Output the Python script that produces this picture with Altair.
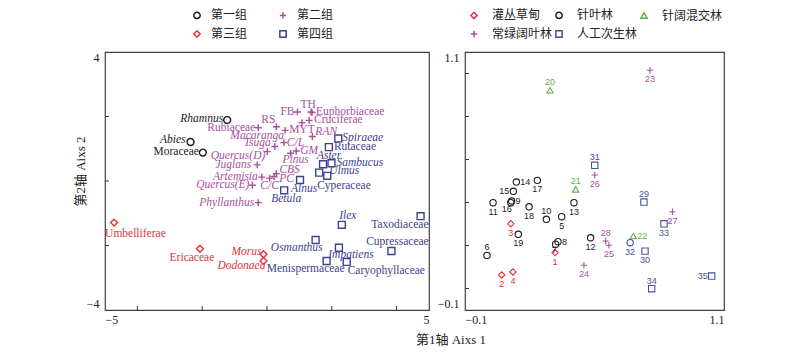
import altair as alt
import pandas as pd

# ---------------- Left panel: taxa ----------------
g1_names = ["Rhamnus", "Abies", "Moraceae"]
g1_x = [-1.23, -2.36, -1.98]
g1_y = [1.89, 1.21, 0.88]

g2_names = ["Rubiaceae", "RS", "FB", "TH", "Euphorbiaceae", "Cruciferae", "MYT", "Macaranga",
            "RAN", "C/L", "Tsuga", "GM", "Quercus(D)", "Pinus", "Juglans", "CBS", "PC", "C/C",
            "Artemisia", "Quercus(E)", "Phyllanthus"]
g2_x = [-0.27, 0.29, 0.94, 1.36, 1.39, 1.30, 0.56, 1.08,
        1.40, 0.52, 0.24, 0.90, 0.01, 0.73, -0.30, 0.29, 0.22, 0.08,
        -0.16, -0.45, -0.27]
g2_y = [1.65, 1.68, 2.14, 2.14, 2.12, 1.88, 1.57, 1.81,
        1.38, 1.19, 1.07, 0.93, 0.91, 0.86, 0.50, 0.23, 0.14, 0.09,
        0.12, -0.13, -0.67]

g3_names = ["Umbelliferae", "Ericaceae", "Morus", "Dodonaea"]
g3_x = [-4.72, -2.07, -0.11, -0.11]
g3_y = [-1.29, -2.10, -2.27, -2.48]

g4_names = ["Spiraeae", "Rutaceae", "Aster", "Sambucus", "Ulmus", "Cyperaceae", "Alnus", "Betula",
            "Ilex", "Taxodiaceae", "Osmanthus", "Impatiens", "Cupressaceae", "Menispermaceae",
            "Caryophyllaceae"]
g4_x = [2.20, 1.91, 1.73, 1.99, 1.86, 1.61, 1.02, 0.53,
        2.31, 4.74, 1.50, 2.22, 3.84, 1.84, 2.46]
g4_y = [1.32, 1.05, 0.52, 0.55, 0.16, 0.26, 0.03, -0.29,
        -1.36, -1.09, -1.83, -2.07, -2.17, -2.48, -2.51]

group_names = ["第一组", "第二组", "第三组", "第四组"]

italic_names = ["Rhamnus", "Abies", "Macaranga", "Tsuga", "C/L", "GM", "RAN", "Quercus(D)",
                "Pinus", "Juglans", "CBS", "Artemisia", "PC", "Quercus(E)", "C/C", "Phyllanthus",
                "Spiraeae", "Aster", "Ulmus", "Sambucus", "Alnus", "Betula", "Ilex", "Osmanthus",
                "Impatiens", "Morus", "Dodonaea"]

left_x_label_values = [-5, 5]
left_y_label_values = [-4, 4]
left_x_ticks = [-4, -2, 0, 2, 4]
left_y_ticks = [-2, 0, 2]

# ---------------- Right panel: samples ----------------
veg_types = ["灌丛草甸", "针叶林", "针阔混交林", "常绿阔叶林", "人工次生林"]
sample_ids = list(range(1, 36))
sample_x = [0.317, 0.070, 0.112, 0.122, 0.348, 0.002, 0.320, 0.331, 0.116, 0.277,
            0.030, 0.482, 0.405, 0.138, 0.124, 0.112, 0.235, 0.197, 0.147, 0.294,
            0.413, 0.680, 0.757, 0.451, 0.567, 0.501, 0.861, 0.552, 0.729, 0.734,
            0.501, 0.665, 0.822, 0.765, 1.043]
sample_y = [0.167, 0.063, 0.301, 0.077, 0.334, 0.154, 0.206, 0.218, 0.407, 0.322,
            0.399, 0.236, 0.399, 0.495, 0.452, 0.399, 0.503, 0.380, 0.252, 0.922,
            0.461, 0.244, 1.015, 0.108, 0.201, 0.528, 0.357, 0.221, 0.402, 0.174,
            0.573, 0.213, 0.301, -0.001, 0.058]
sample_type = ["灌丛草甸"] * 4 + ["针叶林"] * 15 + ["针阔混交林"] * 3 + ["常绿阔叶林"] * 6 + ["人工次生林"] * 7
circle_drawn_ids = [32]

right_label_values = [-0.1, 1.1]
right_y_ticks = [0.0, 0.2, 0.4, 0.6, 0.8, 1.0]

# ---------------- label placement (align, dx, dy) ----------------
left_offsets = {
    "Rhamnus": ("right", -4, -1), "Abies": ("right", -5, -2), "Moraceae": ("right", -4, -1),
    "Rubiaceae": ("right", -3, 0), "RS": ("right", -1, -7), "FB": ("right", -3, 0),
    "TH": ("center", -3, -7), "Euphorbiaceae": ("left", 4, -1), "Cruciferae": ("left", 5, 0),
    "MYT": ("left", 4, 0), "Macaranga": ("right", -18, 13), "RAN": ("left", 3, -4),
    "C/L": ("left", 3, 0), "Tsuga": ("right", -4, -3), "GM": ("left", 4, 0),
    "Quercus(D)": ("right", -2, 4), "Pinus": ("center", 5, 7), "Juglans": ("right", -6, 0),
    "CBS": ("left", 3, -4), "PC": ("left", 5, 3), "C/C": ("center", 0, 8),
    "Artemisia": ("right", -4, 0), "Quercus(E)": ("right", -3, 0), "Phyllanthus": ("right", -4, 0),
    "Umbelliferae": ("left", -9, 11), "Ericaceae": ("center", -8, 9), "Morus": ("right", -2, -2),
    "Dodonaea": ("right", 2, 5), "Spiraeae": ("left", 4, 0), "Rutaceae": ("left", 5, 0),
    "Aster": ("center", 6, -8), "Sambucus": ("left", 5, 0), "Ulmus": ("left", 2, -5),
    "Cyperaceae": ("left", -2, 13), "Alnus": ("center", 4, 9), "Betula": ("center", 2, 9),
    "Ilex": ("center", 6, -9), "Taxodiaceae": ("right", 8, 9), "Osmanthus": ("right", 7, 8),
    "Impatiens": ("center", 12, 7), "Cupressaceae": ("center", 6, -9),
    "Menispermaceae": ("center", -21, 8), "Caryophyllaceae": ("left", 1, 9),
}
right_above = [20, 31, 21, 29, 10, 28, 6, 34]
right_right = [14, 9, 8, 22]
right_left = [15, 35]
right_below_left = [16, 7]

# ---------------- styling ----------------
W_L, W_R, H = 324, 259, 258
SERIF = "Liberation Serif"
CJK = "Liberation Serif, Noto Sans CJK SC"
PLUS = "M-1,0L1,0M0,-1L0,1"
left_colors = ["#1a1a1a", "#a64f9e", "#e8303a", "#3d428f"]
left_shapes = ["circle", PLUS, "diamond", "square"]
right_colors = ["#e8303a", "#1a1a1a", "#62b045", "#a64f9e", "#4a4f9e"]
right_shapes = ["diamond", "circle", "triangle-up", PLUS, "square"]

# ---------------- tables ----------------
rows = []
for g, (ns, xs, ys) in zip(group_names, [(g1_names, g1_x, g1_y), (g2_names, g2_x, g2_y),
                                          (g3_names, g3_x, g3_y), (g4_names, g4_x, g4_y)]):
    for n, x, y in zip(ns, xs, ys):
        rows.append({"name": n, "x": x, "y": y, "group": g})
df_left = pd.DataFrame(rows)
df_right = pd.DataFrame({"id": sample_ids, "x": sample_x, "y": sample_y, "type": sample_type})
df_right["label"] = df_right["id"].astype(str)

# ---------------- left chart ----------------
lx_scale = alt.Scale(domain=[-5, 5], nice=False, zero=False)
ly_scale = alt.Scale(domain=[-4, 4], nice=False, zero=False)
lx_axis = alt.Axis(values=left_x_label_values, ticks=False, domain=False, grid=False, title=None,
                   labelFlush=True, labelFont=SERIF, labelFontSize=12, labelColor="#222",
                   labelPadding=4)
ly_axis = alt.Axis(values=left_y_label_values, ticks=False, domain=False, grid=False,
                   title="第2轴 Aixs 2", titleFont=CJK, titleFontSize=13, titleFontWeight="normal",
                   titleColor="#222", titleX=-25, titleY=119, titleAlign="center",
                   titleBaseline="middle", titleAngle=-90,
                   labelFlush=True, labelFont=SERIF, labelFontSize=12, labelColor="#222",
                   labelPadding=6)


def LX(f="x"):
    return alt.X(f"{f}:Q", scale=lx_scale, axis=lx_axis)


def LY(f="y"):
    return alt.Y(f"{f}:Q", scale=ly_scale, axis=ly_axis)


left_legend = alt.Legend(title=None, orient="none", legendX=86, legendY=-43, columns=2,
                         direction="horizontal",
                         columnPadding=28, rowPadding=5, labelFont="Noto Sans CJK SC",
                         labelFontSize=12, labelColor="#222", labelOffset=8, symbolSize=40,
                         symbolStrokeWidth=1.5, symbolFillColor="transparent")
lcolor_scale = alt.Scale(domain=group_names, range=left_colors)
lshape_scale = alt.Scale(domain=group_names, range=left_shapes)

left_points = alt.Chart(df_left).mark_point(filled=False, size=48, strokeWidth=1.4, opacity=1).encode(
    x=LX(), y=LY(),
    color=alt.Color("group:N", scale=lcolor_scale, legend=left_legend),
    shape=alt.Shape("group:N", scale=lshape_scale, legend=left_legend),
)

groups = {}
for n, g in zip(df_left["name"], df_left["group"]):
    a, dx, dy = left_offsets[n]
    st = "italic" if n in italic_names else "normal"
    col = left_colors[group_names.index(g)]
    groups.setdefault((a, dx, dy, st, col), []).append(n)
left_labels = []
for (a, dx, dy, st, col), ns in groups.items():
    left_labels.append(
        alt.Chart(df_left).transform_filter(alt.FieldOneOfPredicate(field="name", oneOf=ns))
        .mark_text(align=a, baseline="middle", dx=dx, dy=dy, font=SERIF, fontSize=11.5,
                   fontStyle=st, color=col)
        .encode(x=LX(), y=LY(), text="name:N")
    )

left_xt = alt.Chart(pd.DataFrame({"t": left_x_ticks})).mark_rule(color="#333", strokeWidth=1).encode(
    x=LX("t"), y=alt.value(H), y2=alt.value(H - 4))
left_yt = alt.Chart(pd.DataFrame({"t": left_y_ticks})).mark_rule(color="#333", strokeWidth=1).encode(
    y=LY("t"), x=alt.value(0), x2=alt.value(4))

left = alt.layer(left_points, *left_labels, left_xt, left_yt).properties(width=W_L, height=H)

# ---------------- right chart ----------------
rx_scale = alt.Scale(domain=[-0.1, 1.1], nice=False, zero=False)
ry_scale = alt.Scale(domain=[-0.1, 1.1], nice=False, zero=False)
rx_axis = alt.Axis(values=right_label_values, format=".1f", ticks=False, domain=False, grid=False,
                   title=None, labelFlush=True, labelFont=SERIF, labelFontSize=12,
                   labelColor="#222", labelPadding=4)
ry_axis = alt.Axis(values=right_label_values, format=".1f", ticks=False, domain=False, grid=False,
                   title=None, labelFlush=True, labelFont=SERIF, labelFontSize=12,
                   labelColor="#222", labelPadding=6)


def RX(f="x"):
    return alt.X(f"{f}:Q", scale=rx_scale, axis=rx_axis)


def RY(f="y"):
    return alt.Y(f"{f}:Q", scale=ry_scale, axis=ry_axis)


# first-column labels are padded with ideographic spaces so the columns line up as in the reference
right_legend = alt.Legend(title=None, orient="none", legendX=3, legendY=-43, columns=3,
                          direction="horizontal",
                          labelExpr="(datum.label == '灌丛草甸' || datum.label == '常绿阔叶林') ? datum.label + '\u3000\u3000\u3000' : datum.label",
                          columnPadding=-12, rowPadding=5, labelFont="Noto Sans CJK SC",
                          labelFontSize=12, labelColor="#222", labelOffset=12, symbolSize=40,
                          symbolStrokeWidth=1.5, symbolFillColor="transparent")
rcolor_scale = alt.Scale(domain=veg_types, range=right_colors)
rshape_scale = alt.Scale(domain=veg_types, range=right_shapes)

not_circle = "indexof(%s, datum.id) < 0" % str(circle_drawn_ids)
is_circle = "indexof(%s, datum.id) >= 0" % str(circle_drawn_ids)

right_points = alt.Chart(df_right).transform_filter(not_circle).mark_point(
    filled=False, size=40, strokeWidth=1.1, opacity=1).encode(
    x=RX(), y=RY(),
    color=alt.Color("type:N", scale=rcolor_scale, legend=right_legend),
    shape=alt.Shape("type:N", scale=rshape_scale, legend=right_legend),
)
right_circ = alt.Chart(df_right).transform_filter(is_circle).mark_point(
    filled=False, size=40, strokeWidth=1.1, opacity=1, shape="circle").encode(
    x=RX(), y=RY(), color=alt.Color("type:N", scale=rcolor_scale, legend=None))

placed = right_above + right_right + right_left + right_below_left
right_below = [i for i in sample_ids if i not in placed]
rplacements = [
    (right_above, "center", 0, -8),
    (right_below, "center", 0, 9),
    (right_right, "left", 4, 0),
    (right_left, "right", -4, 0),
    (right_below_left, "right", 1, 6),
]
right_labels = []
for ids, a, dx, dy in rplacements:
    for t, col in zip(veg_types, right_colors):
        sel = [i for i, tt in zip(sample_ids, sample_type) if tt == t and i in ids]
        if not sel:
            continue
        right_labels.append(
            alt.Chart(df_right).transform_filter(alt.FieldOneOfPredicate(field="id", oneOf=sel))
            .mark_text(align=a, baseline="middle", dx=dx, dy=dy, font="Liberation Sans",
                       fontSize=9, color=col)
            .encode(x=RX(), y=RY(), text="label:N")
        )

right_yt = alt.Chart(pd.DataFrame({"t": right_y_ticks})).mark_rule(color="#333", strokeWidth=1).encode(
    y=RY("t"), x=alt.value(0), x2=alt.value(4))

right = alt.layer(right_points, right_circ, *right_labels, right_yt).properties(width=W_R, height=H)

chart = alt.hconcat(left, right, spacing=36, bounds="flush").resolve_scale(
    color="independent", shape="independent", x="independent", y="independent"
).resolve_legend(color="independent", shape="independent").properties(
    title=alt.TitleParams("第1轴 Aixs 1", orient="bottom", anchor="middle", frame="group",
                          dx=346, offset=8, font=CJK, fontSize=13, fontWeight="normal",
                          color="#222"),
    padding={"left": 73, "top": 8, "right": 5, "bottom": 5},
    background="white",
).configure_view(stroke="#404040", strokeWidth=1.2)

chart.save("out.html", embed_options={"renderer": "svg", "actions": False})
